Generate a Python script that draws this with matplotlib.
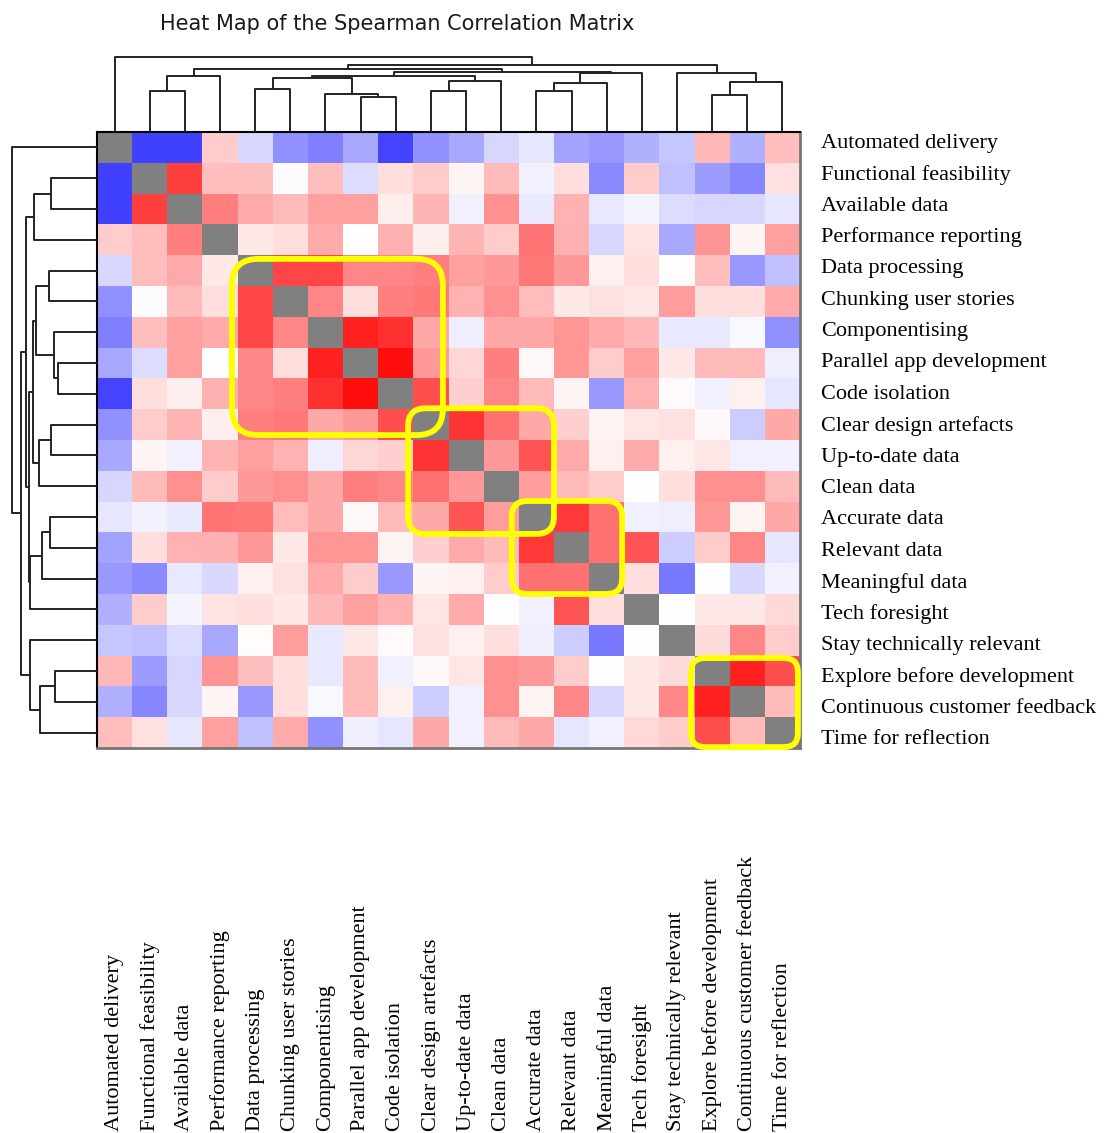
import numpy as np
import matplotlib.pyplot as plt
from matplotlib.patches import FancyBboxPatch

# Items in clustered order
labels = [
    "Automated delivery", "Functional feasibility", "Available data",
    "Performance reporting", "Data processing", "Chunking user stories",
    "Componentising", "Parallel app development", "Code isolation",
    "Clear design artefacts", "Up-to-date data", "Clean data",
    "Accurate data", "Relevant data", "Meaningful data", "Tech foresight",
    "Stay technically relevant", "Explore before development",
    "Continuous customer feedback", "Time for reflection",
]

# Spearman correlations, lower triangle (row i holds columns 0..i-1)
lower = [
    [],
    [-0.75],
    [-0.75, 0.75],
    [0.20, 0.25, 0.50],
    [-0.15, 0.25, 0.33, 0.09],
    [-0.43, -0.01, 0.27, 0.13, 0.72],
    [-0.50, 0.25, 0.37, 0.33, 0.72, 0.47],
    [-0.34, -0.14, 0.37, 0.00, 0.47, 0.13, 0.87],
    [-0.73, 0.13, 0.07, 0.31, 0.47, 0.50, 0.81, 0.94],
    [-0.43, 0.20, 0.29, 0.07, 0.50, 0.53, 0.34, 0.40, 0.69],
    [-0.34, 0.04, -0.06, 0.29, 0.37, 0.30, -0.07, 0.16, 0.19, 0.79],
    [-0.16, 0.27, 0.43, 0.20, 0.40, 0.43, 0.34, 0.50, 0.47, 0.56, 0.40],
    [-0.10, -0.05, -0.08, 0.54, 0.53, 0.26, 0.34, 0.03, 0.27, 0.34, 0.67, 0.39],
    [-0.36, 0.13, 0.30, 0.31, 0.40, 0.09, 0.41, 0.41, 0.04, 0.19, 0.33, 0.27, 0.78],
    [-0.40, -0.46, -0.09, -0.15, 0.06, 0.12, 0.33, 0.20, -0.40, 0.04, 0.06, 0.20,
     0.56, 0.56],
    [-0.31, 0.20, -0.04, 0.11, 0.13, 0.09, 0.28, 0.37, 0.30, 0.10, 0.33, 0.00,
     -0.06, 0.67, 0.13],
    [-0.22, -0.25, -0.14, -0.34, 0.01, 0.39, -0.09, 0.09, 0.02, 0.12, 0.06, 0.13,
     -0.07, -0.20, -0.53, 0.00],
    [0.28, -0.39, -0.16, 0.42, 0.25, 0.13, -0.09, 0.27, -0.06, 0.03, 0.10, 0.43,
     0.40, 0.20, 0.00, 0.09, 0.14],
    [-0.31, -0.47, -0.15, 0.04, -0.40, 0.13, -0.03, 0.27, 0.06, -0.20, -0.06, 0.43,
     0.04, 0.47, -0.15, 0.09, 0.47, 0.87],
    [0.25, 0.12, -0.10, 0.37, -0.25, 0.33, -0.43, -0.07, -0.10, 0.34, -0.06, 0.27,
     0.34, -0.10, -0.06, 0.15, 0.20, 0.69, 0.27],
]

# Hierarchical clustering merges: (child a, child b, height); new clusters get ids 20, 21, ...
merges = [
    (1, 2, 0.54), (20, 3, 0.74), (4, 5, 0.57), (7, 8, 0.46), (6, 23, 0.51),
    (22, 24, 0.72), (9, 10, 0.54), (26, 11, 0.68), (25, 27, 0.75),
    (12, 13, 0.55), (29, 14, 0.65), (30, 15, 0.785), (28, 31, 0.80),
    (21, 32, 0.84), (17, 18, 0.49), (34, 19, 0.67), (16, 35, 0.79),
    (33, 36, 0.89), (0, 37, 1.0),
]

# Highlighted blocks: (x0, y0, x1, y1, corner radius) in cell units
blocks = [
    (3.84, 4.12, 9.84, 9.84, 0.75),
    (8.85, 8.97, 13.0, 13.05, 0.5),
    (11.8, 11.98, 14.94, 15.0, 0.45),
    (16.9, 17.08, 19.94, 19.97, 0.4),
]

n = len(labels)
corr = np.full((n, n), np.nan)
for i, row in enumerate(lower):
    for j, v in enumerate(row):
        corr[i, j] = v
        corr[j, i] = v


def dendro_segments(merges, n):
    pos = {i: i + 0.5 for i in range(n)}
    hgt = {i: 0.0 for i in range(n)}
    segs = []
    for k, (a, b, h) in enumerate(merges):
        segs.append(([pos[a], pos[a], pos[b], pos[b]], [hgt[a], h, h, hgt[b]]))
        pos[n + k] = (pos[a] + pos[b]) / 2
        hgt[n + k] = h
    return segs


W, H = 1108, 1133
fig = plt.figure(figsize=(W / 100, H / 100), dpi=100)

serif = ["Liberation Serif", "DejaVu Serif"]

# heat map
ax = fig.add_axes([97 / W, 1 - 748 / H, 703 / W, 616 / H])
cmap = plt.get_cmap("bwr").copy()
cmap.set_bad("#808080")
ax.pcolormesh(np.ma.masked_invalid(corr), cmap=cmap, vmin=-1, vmax=1)
ax.set_xlim(0, n)
ax.set_ylim(n, 0)
ax.set_xticks([])
ax.set_yticks([])
for side in ["top", "left"]:
    ax.spines[side].set_color("black")
    ax.spines[side].set_linewidth(1.5)
for side in ["right", "bottom"]:
    ax.spines[side].set_color("#777777")
    ax.spines[side].set_linewidth(2.0)

for x0, y0, x1, y1, r in blocks:
    box = FancyBboxPatch((x0, y0), x1 - x0, y1 - y0,
                         boxstyle=f"round,pad=0,rounding_size={r}",
                         mutation_aspect=35.15 / 30.8,
                         fill=False, edgecolor="#FFFF00", linewidth=4.2,
                         clip_on=False, zorder=5)
    ax.add_patch(box)

# row labels on the right, spaced a little wider than the rows
for i, lab in enumerate(labels):
    y_px = 143.4 + i * 31.37
    fig.text(821 / W, 1 - y_px / H, lab, ha="left", va="center",
             fontsize=16, family=serif)

# column labels along the bottom of the figure
for i, lab in enumerate(labels):
    ax.annotate(lab, xy=(i + 0.5, 0), xycoords=ax.get_xaxis_transform(),
                xytext=(i + 0.5, 2 / H), textcoords=("data", "figure fraction"),
                rotation=90, ha="center", va="bottom", fontsize=16, family=serif)

segs = dendro_segments(merges, n)

# column dendrogram
axt = fig.add_axes([97 / W, 1 - 132 / H, 703 / W, 76 / H])
for xs, ys in segs:
    axt.plot(xs, ys, color="#222222", lw=1.4, clip_on=False,
             solid_capstyle="butt")
axt.set_xlim(0, n)
axt.set_ylim(0, 1.01)
axt.axis("off")

# row dendrogram
axl = fig.add_axes([12 / W, 1 - 748 / H, 85 / W, 616 / H])
for xs, ys in segs:
    axl.plot(ys, xs, color="#222222", lw=1.4, clip_on=False,
             solid_capstyle="butt")
axl.set_xlim(1.0, 0)
axl.set_ylim(n, 0)
axl.axis("off")

fig.text(397 / W, 1 - 24 / H, "Heat Map of the Spearman Correlation Matrix",
         ha="center", va="center", fontsize=15, color="#1a1a1a",
         family="DejaVu Sans")

fig.savefig("out.png", dpi=100)
